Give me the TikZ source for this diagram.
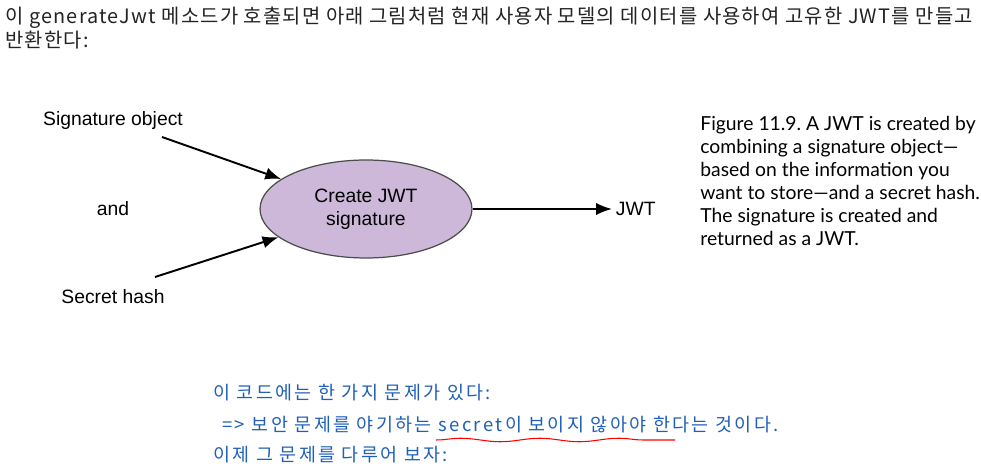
\documentclass[tikz,border=0pt]{standalone}
\usepackage{fontspec}
\setmainfont{Liberation Sans}
\newfontfamily\krfont{Noto Sans CJK KR}
\newfontfamily\krwide[LetterSpace=6]{Noto Sans CJK KR}
\newfontfamily\krnote[LetterSpace=13]{Noto Sans CJK KR}
\newfontfamily\capfont{Lato}
\usetikzlibrary{shapes.geometric,arrows.meta,decorations.pathmorphing}
\definecolor{lavender}{RGB}{205,184,218}
\definecolor{introgray}{RGB}{35,35,35}
\definecolor{noteblue}{RGB}{32,96,186}
\frenchspacing

\begin{document}
\begin{tikzpicture}[x=0.02cm,y=-0.02cm]

		\tikzset{
			txtlbl/.style={font=\fontsize{11}{13}\selectfont, inner sep=2pt},
			flowarrow/.style={line width=1.1pt, -{Latex[length=9pt,width=7pt]}},
			signbox/.style={ellipse, draw=black!70, fill=lavender, line width=0.7pt,
				minimum width=4.24cm, minimum height=1.96cm, inner sep=0pt, align=center, txtlbl},
			intro/.style={anchor=west, text=introgray, inner sep=0pt, font=\krwide\fontsize{11.3}{12}\selectfont},
			note/.style={anchor=west, text=noteblue, inner sep=0pt, font=\krnote\fontsize{10.5}{12}\selectfont}
		}

		% page size
		\fill[white] (0,0) rectangle (981,469);
		\useasboundingbox (0,0) rectangle (981,469);

		% text above the figure
		\node[intro] (intro1) at (5,18) {이 generateJwt 메소드가 호출되면 아래 그림처럼 현재 사용자 모델의 데이터를 사용하여 고유한 JWT를 만들고};
		\node[intro] (intro2) at (5,40) {반환한다:};

		% diagram
		\node[txtlbl] (sigobj) at (113,121) {Signature object};
		\node[txtlbl] (andword) at (113,209) {and};
		\node[txtlbl] (hash) at (113,297) {Secret hash};
		\node[signbox] (create) at (366,209) {Create JWT\\signature};
		\node[txtlbl, anchor=west] (jwt) at (612,209) {JWT};

		\coordinate (sigtail) at (162,137);
		\coordinate (hashtail) at (155,277);

		\draw[flowarrow] (sigtail) -- (create);
		\draw[flowarrow] (hashtail) -- (create);
		\draw[flowarrow] (create.east) -- (jwt.west);

		% caption
		\node[anchor=north west, align=left, inner sep=0pt,
			font=\capfont\fontsize{11}{13.1}\selectfont] (caption) at (700,116)
			{Figure 11.9. A JWT is created by\\combining a signature object—\\based on the information you\\want to store—and a secret hash.\\The signature is created and\\returned as a JWT.};

		% notes below
		\node[note] (note1) at (213,393) {이 코드에는 한 가지 문제가 있다:};
		\node[note] (note2) at (222,425) {=> 보안 문제를 야기하는 secret이 보이지 않아야 한다는 것이다.};
		\node[note] (note3) at (213,455) {이제 그 문제를 다루어 보자:};

		\draw[red, line width=0.6pt, decorate, decoration={snake, amplitude=1pt, segment length=45pt}]
			(436,440) -- (675,440);

\end{tikzpicture}
\end{document}
